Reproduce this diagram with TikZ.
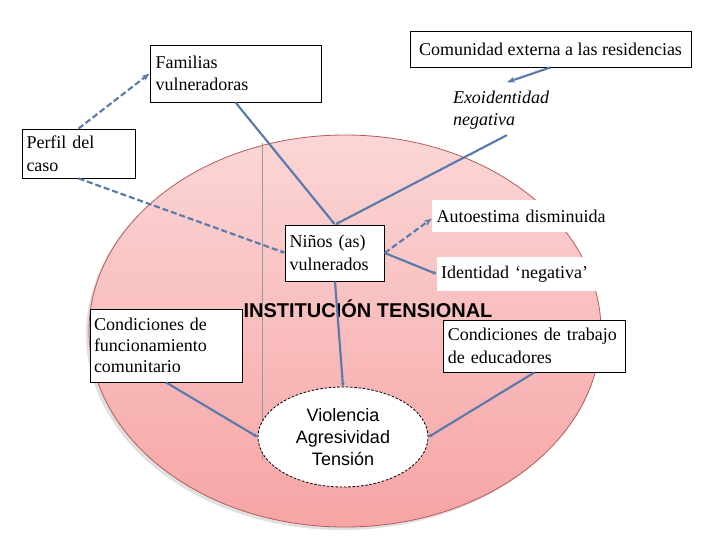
\documentclass[tikz,border=0pt]{standalone}
\usepackage{fontspec}
\setmainfont{Liberation Serif}
\setsansfont{Liberation Sans}
\usetikzlibrary{arrows.meta,shapes.geometric,shadows}
\definecolor{conn}{RGB}{90,122,172}
\definecolor{ellborder}{RGB}{180,90,90}
\definecolor{pinktop}{RGB}{251,214,214}
\definecolor{pinkbot}{RGB}{247,164,164}
\tikzset{
  box/.style={draw=black, line width=0.6pt, fill=white, font=\fontsize{13.5}{17}\selectfont, align=left, inner sep=3pt},
  plain/.style={fill=white, font=\fontsize{13.5}{17}\selectfont, align=left, inner sep=3pt},
  conline/.style={draw=conn, line width=1.6pt},
  condash/.style={conline, dash pattern=on 4.5pt off 2.2pt},
  bigtip/.style={-{Stealth[length=6pt,width=4.5pt]}},
  smalltip/.style={-{Stealth[length=3pt,width=3pt]}}
}
\begin{document}
\begin{tikzpicture}[x=0.75pt,y=-0.75pt]
\useasboundingbox (0,0) rectangle (720,540);
% big ellipse with shadow
\fill[black!12] (342,334) ellipse [x radius=256, y radius=196];
\shade[top color=pinktop, bottom color=pinkbot, draw=ellborder, line width=0.6pt] (345,331) ellipse [x radius=256, y radius=196];
% vertical gray line
\draw[black!40, line width=0.6pt] (262,143) -- (262,460);

% nodes
\node[box, minimum width=128.25pt, minimum height=42.75pt, text width=120pt] (fam) at (235.5,73.5) {Familias\\vulneradoras};
\node[box, minimum width=210.75pt, minimum height=27pt, align=center] (com) at (550.5,49) {Comunidad externa a las residencias};
\node[font=\fontsize{13.5}{17}\selectfont\itshape, align=left, inner sep=2pt, text width=75pt] (exo) at (503,110) {Exoidentidad\\negativa};
\node[box, minimum width=84.75pt, minimum height=36.75pt, text width=78pt] (per) at (78.5,153.5) {Perfil del\\caso};
\node[box, minimum width=73.5pt, minimum height=42pt, text width=68pt] (nin) at (335,253) {Niños (as)\\vulnerados};
\node[plain, minimum width=135pt, minimum height=24pt, text width=128pt] (aut) at (522,216) {Autoestima disminuida};
\node[plain, minimum width=122.25pt, minimum height=25.5pt, text width=116pt] (ide) at (518.5,274) {Identidad ‘negativa’};
\node[font=\sffamily\bfseries\fontsize{15}{17}\selectfont, inner sep=0pt] (ins) at (368,309) {INSTITUCIÓN TENSIONAL};
\node[box, minimum width=114pt, minimum height=54.75pt, text width=108pt, font=\fontsize{13.5}{16}\selectfont] (cfc) at (166,345.5) {Condiciones de\\funcionamiento\\comunitario};
\node[box, minimum width=135.75pt, minimum height=39pt, text width=130pt] (cte) at (534.5,346) {Condiciones de trabajo\\de educadores};
\node[ellipse, draw=black, dash pattern=on 2pt off 1.2pt, line width=0.6pt, fill=white, minimum width=127.5pt, minimum height=75pt, inner sep=0pt, align=center, font=\sffamily\fontsize{13.5}{16.5}\selectfont] (vio) at (343,437) {Violencia\\Agresividad\\Tensión};

% connectors
\draw[condash, bigtip] (per.north) -- (fam.west);
\draw[condash, smalltip] (per.south) -- (nin.west);
\draw[conline, smalltip] (fam.south) -- (nin.north);
\draw[conline, smalltip] ([xshift=3pt,yshift=-2pt]exo.south) -- (nin.north);
\draw[conline, bigtip] (com.south) -- ([xshift=3pt,yshift=4pt]exo.north);
\draw[condash, bigtip] (nin.east) -- ([yshift=-2pt]aut.west);
\draw[conline, smalltip] (nin.east) -- (ide.west);
\draw[conline, smalltip] (nin.south) -- (vio.north);
\draw[conline, smalltip] (cfc.south) -- (vio.west);
\draw[conline, smalltip] (cte.south) -- (vio.east);
\end{tikzpicture}
\end{document}
